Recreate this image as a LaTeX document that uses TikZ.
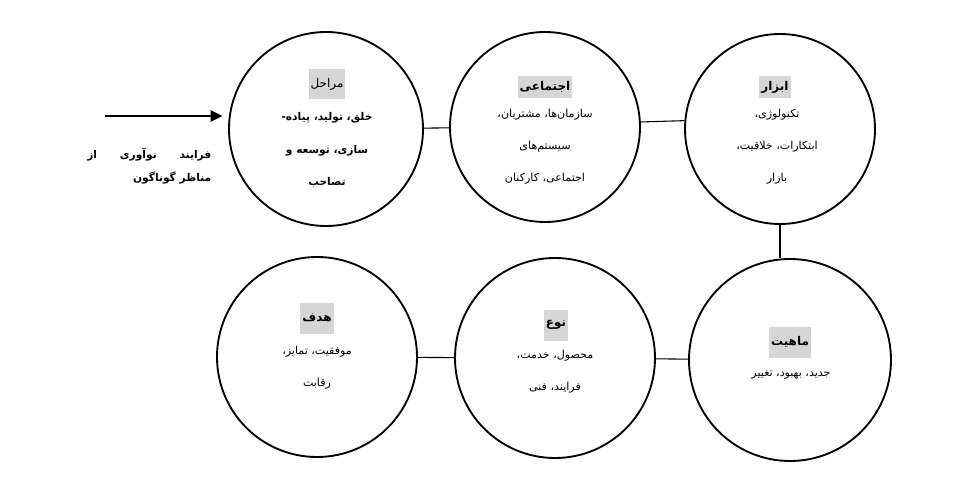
\documentclass[tikz,border=0pt]{standalone}
\usepackage{fontspec}
\newfontfamily\arabicfont[Script=Arabic]{DejaVu Sans}
\TeXXeTstate=1
\usetikzlibrary{arrows.meta}
\begin{document}
\begin{tikzpicture}[x=0.75pt,y=-0.75pt,
  circ/.style={circle,draw,line width=1.4pt,minimum size=#1*1.5pt,inner sep=0pt},
  conn/.style={draw,line width=0.8pt},
  head/.style={fill=black!16,inner sep=0pt,minimum height=#1*0.75pt,font=\arabicfont\bfseries\fontsize{9}{10}\selectfont,inner xsep=1.5pt},
  body/.style={align=center,font=\arabicfont\fontsize{8.3}{24}\selectfont},
  bodyb/.style={align=center,font=\arabicfont\bfseries\fontsize{8}{24.5}\selectfont},
  lbl/.style={align=right,font=\arabicfont\bfseries\fontsize{8}{17}\selectfont}]
\useasboundingbox (0,0) rectangle (971,485);
% circles
\node (c1) [circ=97] at (326,129) {};
\node (c2) [circ=95] at (545,127) {};
\node (c3) [circ=95] at (780,129) {};
\node (c4) [circ=101] at (790,360) {};
\node (c5) [circ=100] at (555,358) {};
\node (c6) [circ=100] at (317,357) {};
% connectors
\draw[conn] (c1) -- (c2);
\draw[conn] (c2.3.6) -- (c3.175);
\draw[conn] (c3.south) -- (c3.south |- c4.north);
\draw[conn] (c5) -- (c4);
\draw[conn] (c6) -- (c5);
% arrow
\coordinate (a0) at (105,116);
\draw[line width=2.2pt,-{Triangle[length=9pt,width=8pt]},shorten >=4pt] (a0) -- (a0 -| c1.west);
\node (lab) [lbl,anchor=east] at (216,166) {\hbox to 93pt{\beginR فرایند\hfill نوآوری\hfill از\endR}\\\beginR مناظر گوناگون\endR};
% headers
\node (h1) [head=30,font=\arabicfont\fontsize{9}{10}\selectfont] at (327,84) {\beginR مراحل\endR};
\node (h2) [head=22] at (545,87) {\beginR اجتماعی\endR};
\node (h3) [head=22] at (775,87) {\beginR ابزار\endR};
\node (h4) [head=31] at (790,342) {\beginR ماهیت\endR};
\node (h5) [head=31] at (556,325) {\beginR نوع\endR};
\node (h6) [head=31] at (317,318) {\beginR هدف\endR};
% bodies
\node (b1) [bodyb] at (327,150) {\beginR خلق، تولید، پیاده-\endR\\\beginR سازی، توسعه و\endR\\\beginR تصاحب\endR};
\node (b2) [body] at (545,147) {\beginR سازمان‌ها، مشتریان،\endR\\\beginR سیستم‌های\endR\\\beginR اجتماعی، کارکنان\endR};
\node (b3) [body] at (777,147) {\beginR تکنولوژی،\endR\\\beginR ابتکارات، خلاقیت،\endR\\\beginR بازار\endR};
\node (b4) [body] at (791,375) {\beginR جدید، بهبود، تغییر\endR};
\node (b5) [body] at (555,372) {\beginR محصول، خدمت،\endR\\\beginR فرایند، فنی\endR};
\node (b6) [body] at (317,368) {\beginR موفقیت، تمایز،\endR\\\beginR رقابت\endR};
\end{tikzpicture}
\end{document}
